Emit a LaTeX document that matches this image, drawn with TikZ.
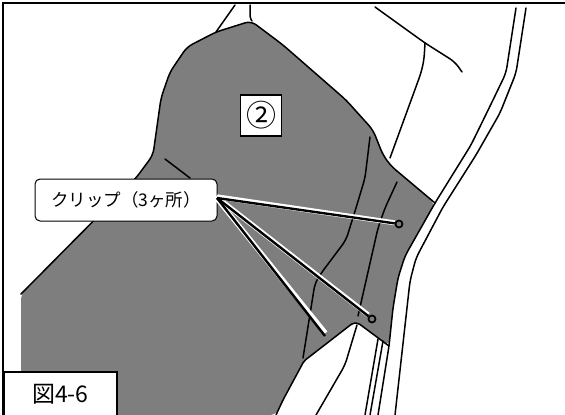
\documentclass[tikz,border=0pt]{standalone}
\usepackage{fontspec}
\setmainfont{Noto Sans CJK JP}
\tikzset{
  outline/.style={line width=1.5pt, line join=round, line cap=round, rounded corners=6pt},
  clipline/.style={line width=2.4pt},
  cliphalo/.style={white, line width=5pt},
  clippoint/.style={circle, draw, line width=1.7pt, inner sep=0pt, minimum size=7pt},
  tagbox/.style={draw, fill=white, line width=1.7pt, inner sep=0pt}
}
\begin{document}
\begin{tikzpicture}[x=1pt,y=-1pt]
  \useasboundingbox (0,0) rectangle (565,415);
  \fill[white] (0,0) rectangle (565,415);
  % frame
  \draw[line width=2pt] (3,415) -- (3,2.5) -- (565,2.5);
  % part
  \fill[gray!99!black, rounded corners=6pt] (21,294) -- (136,178) -- (153,155) -- (161,98) -- (170,72) -- (187,47) -- (216,32) -- (251,21) -- (283,45)
    -- (346,100) -- (373,130) -- (383,155) -- (391,166) -- (435,203) -- (405,256) -- (398,278) -- (393,308) -- (389,346)
    -- (358,323) -- (353,323) -- (304,361) -- (283,400) -- (276,415) -- (21,415) -- cycle;
  \draw[outline] (21,294) -- (136,178) -- (153,155) -- (161,98) -- (170,72) -- (187,47) -- (216,32) -- (251,21) -- (283,45)
    -- (346,100) -- (373,130) -- (383,155) -- (391,166) -- (435,203);
  \draw[outline, rounded corners=2pt] (389,346) -- (358,323) -- (353,323) -- (304,361) -- (283,400) -- (276,415);
  % upper lines
  \draw[outline, rounded corners=0pt] (216,32) -- (235,5);
  \draw[outline, rounded corners=2pt] (250,5) -- (250,18) -- (252,21);
  \draw[outline] (375,7) -- (425,43) -- (455,62) -- (462,72);
  \draw[outline] (425,43) -- (424,60) -- (421,73) -- (390,158);
  % folds
  \draw[outline] (165,159) -- (190,178);
  \draw[outline] (370,137) -- (365,178) -- (356,208) -- (346,240) -- (322,272) -- (315,283) -- (303,358);
  \draw[outline] (397,182) -- (385,208) -- (378,228) -- (358,316);
  % right edge
  \draw[outline] (516,8) -- (506,73) -- (493,100) -- (471,145) -- (435,203) -- (405,256) -- (398,278) -- (393,308) -- (389,346) -- (378,415);
  \draw[outline] (526,8) -- (516,73) -- (500,113) -- (476,155) -- (443,207) -- (416,258) -- (410,281) -- (395,415);
  \draw[outline] (383,341) -- (370,415);
  \draw[outline] (378,339) -- (365,415);
  \draw[outline] (357,325) -- (345,365) -- (316,415);
  % labels
  \node[tagbox, minimum width=41pt, minimum height=41pt, font=\fontsize{30}{30}\selectfont] (num) at (261,115.5) {②};
  \node[tagbox, anchor=south west, minimum width=113pt, minimum height=45pt, font=\fontsize{23}{23}\selectfont] (fig) at (3,418) {図4-6};
  \node[draw, fill=white, rounded corners=5pt, line width=1pt, minimum width=182pt, minimum height=42pt, inner sep=0pt, font=\fontsize{17.5}{17.5}\selectfont] (callout) at (126,200) {クリップ（3ヶ所）};
  % clips
  \coordinate (clipo) at (217,198);
  \node[clippoint] (clipa) at (399,224) {};
  \node[clippoint] (clipb) at (372,319) {};
  \coordinate (clipc) at (325,336);
  \draw[cliphalo] ([yshift=1.2pt]clipo) -- ([yshift=1.2pt]clipa.west);
  \draw[cliphalo] ([xshift=-.9pt,yshift=1.2pt]clipo) -- ([xshift=-.9pt,yshift=1.2pt]clipb.north west);
  \draw[cliphalo] ([xshift=-1.2pt,yshift=.9pt]clipo) -- ([xshift=.4pt,yshift=3pt]clipc);
  \draw[clipline] (clipo) -- (clipa);
  \draw[clipline] (clipo) -- (clipb);
  \draw[clipline] (clipo) -- (clipc);
\end{tikzpicture}
\end{document}
